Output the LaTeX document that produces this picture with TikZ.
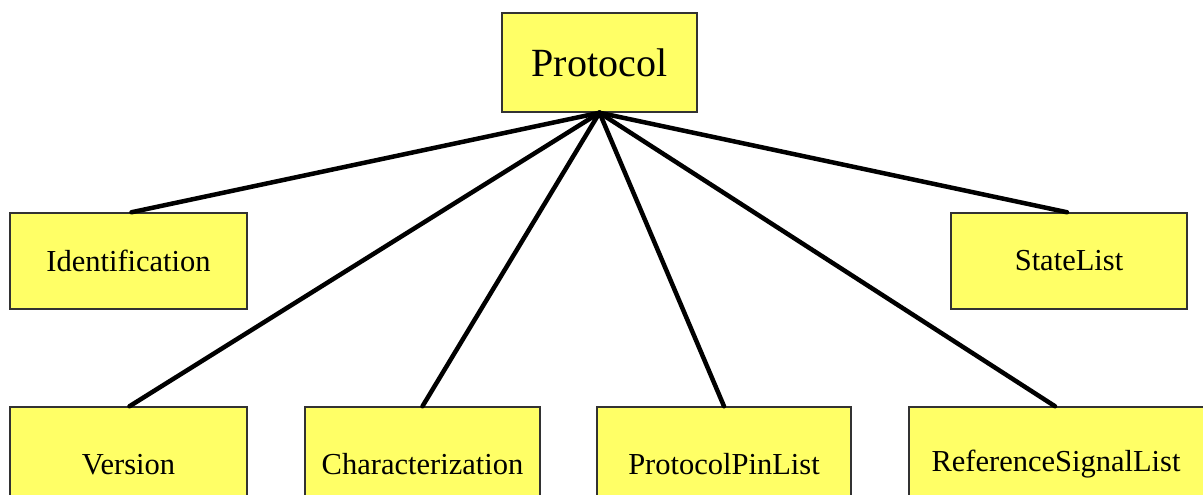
\documentclass[tikz,border=0pt]{standalone}
\usepackage{fontspec}
\setmainfont{Liberation Serif}
\definecolor{boxfill}{RGB}{255,255,102}
\definecolor{boxedge}{RGB}{50,50,50}
\tikzset{
  classbox/.style={draw=boxedge, line width=1.5pt, fill=boxfill, rectangle,
    inner sep=0pt, font=\fontsize{30.5}{34}\selectfont},
  rootbox/.style={classbox, font=\fontsize{40}{44}\selectfont},
  link/.style={line width=4.5pt, black, line cap=round}
}
\begin{document}
\begin{tikzpicture}[x=1pt, y=-1pt]
  \useasboundingbox (0,0) rectangle (1203,495);
  \clip (0,0) rectangle (1203,495);
  \fill[white] (0,0) rectangle (1203,495);

  % root
  \node[rootbox, minimum width=195pt, minimum height=99pt] (root) at (599.5,62.5) {Protocol};

  % first row of children
  \node[classbox, minimum width=237pt, minimum height=96pt] (ident) at (128.5,261) {Identification};
  \node[classbox, minimum width=236pt, minimum height=96pt] (state) at (1069,261) {StateList};

  % second row of children (running past the lower and right edges)
  \node[classbox, minimum width=237pt, minimum height=115pt] (ver) at (128.5,464.5) {Version};
  \node[classbox, minimum width=235pt, minimum height=115pt] (char) at (422.5,464.5) {Characterization};
  \node[classbox, minimum width=254pt, minimum height=115pt] (pins) at (724,464.5) {ProtocolPinList};
  \node[classbox, minimum width=306pt, minimum height=115pt] (refs) at (1062,464.5) {ReferenceSignalList\hspace*{12pt}};

  % connectors from the root
  \draw[link] (root.south) -- ([xshift=3pt]ident.north);
  \draw[link] (root.south) -- ([xshift=-2pt]state.north);
  \draw[link] (root.south) -- ([xshift=1pt]ver.north);
  \draw[link] (root.south) -- (char.north);
  \draw[link] (root.south) -- (pins.north);
  \draw[link] (root.south) -- ([xshift=-7pt]refs.north);
\end{tikzpicture}
\end{document}
